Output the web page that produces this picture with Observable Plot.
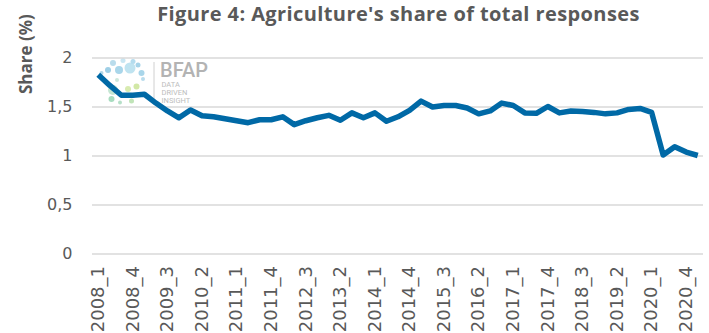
<!DOCTYPE html>
<html><head><meta charset="utf-8">
<script src="https://cdn.jsdelivr.net/npm/d3@7"></script>
<script src="https://cdn.jsdelivr.net/npm/@observablehq/plot@0.6"></script>
<style>
body{margin:0;background:#fff;}
#wrap{position:relative;width:709px;height:333px;overflow:hidden;background:#fff;}
#title{position:relative;z-index:2;box-sizing:border-box;width:709px;height:40px;line-height:40px;padding-left:88px;text-align:center;font:700 20px "Open Sans";letter-spacing:0.4px;color:#595959;white-space:nowrap;}
#logo{position:absolute;left:0;top:0;z-index:0;}
#chart{position:relative;z-index:1;}
</style></head>
<body><div id="wrap"><svg id="logo" width="709" height="333"></svg>
<div id="title">Figure 4: Agriculture's share of total responses</div><div id="chart"></div></div>
<script>
const quarters = ["2008_1","2008_2","2008_3","2008_4","2009_1","2009_2","2009_3","2009_4",
"2010_1","2010_2","2010_3","2010_4","2011_1","2011_2","2011_3","2011_4",
"2012_1","2012_2","2012_3","2012_4","2013_1","2013_2","2013_3","2013_4",
"2014_1","2014_2","2014_3","2014_4","2015_1","2015_2","2015_3","2015_4",
"2016_1","2016_2","2016_3","2016_4","2017_1","2017_2","2017_3","2017_4",
"2018_1","2018_2","2018_3","2018_4","2019_1","2019_2","2019_3","2019_4",
"2020_1","2020_2","2020_3","2020_4","2021_1"];
const shares = [1.83,1.72,1.62,1.62,1.63,1.54,1.46,1.39,
1.47,1.41,1.40,1.38,1.36,1.34,1.37,1.37,
1.40,1.32,1.36,1.39,1.415,1.365,1.44,1.39,
1.44,1.355,1.40,1.465,1.56,1.50,1.515,1.515,
1.49,1.43,1.46,1.54,1.515,1.44,1.435,1.505,
1.44,1.46,1.455,1.445,1.43,1.44,1.475,1.485,
1.445,1.01,1.095,1.04,1.005];
const xTickLabels = ["2008_1","2008_4","2009_3","2010_2","2011_1","2011_4","2012_3","2013_2","2014_1",
"2014_4","2015_3","2016_2","2017_1","2017_4","2018_3","2019_2","2020_1","2020_4"];
const yTicks = [0, 0.5, 1, 1.5, 2];
const yTitle = "Share (%)";

const data = quarters.map((q, i) => ({q, v: shares[i]}));

const chart = Plot.plot({
  width: 709, height: 293,
  marginLeft: 92, marginRight: 6, marginTop: 17.5, marginBottom: 79.5,
  style: {fontFamily: "DejaVu Sans", fontSize: "16px", color: "#595959", background: "transparent", overflow: "visible"},
  x: {type: "point", domain: quarters, padding: 0.5, round: false},
  y: {domain: [0, 2]},
  marks: [
    Plot.ruleY(yTicks, {stroke: "#d9d9d9", strokeWidth: 1.5}),
    Plot.axisY(yTicks, {tickSize: 0, tickPadding: 20, fontSize: 16, label: null,
      tickFormat: d => String(d).replace(".", ",")}),
    Plot.axisX(xTickLabels, {tickSize: 0, tickPadding: 12, tickRotate: -90, fontSize: 18, label: null}),
    Plot.lineY(data, {x: "q", y: "v", stroke: "#0069a6", strokeWidth: 5.5, strokeLinejoin: "round", strokeLinecap: "butt"}),
    Plot.text([yTitle], {text: d => d, frameAnchor: "top-left", dx: -73, dy: 36, rotate: -90,
      fontWeight: "bold", fontSize: 17, fontFamily: "Open Sans", fill: "#595959"})
  ]
});
document.getElementById("chart").appendChild(chart);

// BFAP logo (decoration, drawn behind the chart)
const logo = d3.select("#logo");
const dots = [
  [130,68,5.5,"#bfe3f0"],[119,70,4,"#a9d6ea"],[113,63,3,"#b9dcec"],[123,60.5,2.5,"#c9e6f2"],
  [133,61.5,2.5,"#b4dcee"],[138,65,2.5,"#a6d3e8"],[141.5,73,3,"#a9d6ea"],[143,79,2,"#b9dcec"],
  [108,70,3,"#9fcfe6"],[101.5,73,2,"#b0d8ea"],[104,80,2,"#c2e3c9"],[113,90,5,"#c5e6d3"],
  [128,89,3,"#d8ebb0"],[136.5,86.5,3,"#d2e8a6"],[111.5,99,3,"#a8dcc0"],[120,102.5,2,"#b6e0c8"],
  [131.5,101,2.5,"#c0e4b8"],[124,95,2,"#cfe9b4"],[140,94,2,"#cde6b0"],[117,80,2,"#cde8dc"]
];
logo.selectAll("circle").data(dots).join("circle")
  .attr("cx", d => d[0]).attr("cy", d => d[1]).attr("r", d => d[2]).attr("fill", d => d[3]);
logo.append("line").attr("x1",154).attr("x2",154).attr("y1",62).attr("y2",103).attr("stroke","#d0d0d0").attr("stroke-width",1);
logo.append("text").attr("x",160).attr("y",76.5).text("BFAP")
  .attr("font-family","Roboto").attr("font-weight",500).attr("font-size",20).attr("fill","#b3b3b3");
["DATA","DRIVEN","INSIGHT"].forEach((t,i)=>{
  logo.append("text").attr("x",161.5).attr("y",87+i*8).text(t)
    .attr("font-family","Roboto").attr("font-size",7.5).attr("fill","#bdbdbd");
});
</script>
</body></html>
